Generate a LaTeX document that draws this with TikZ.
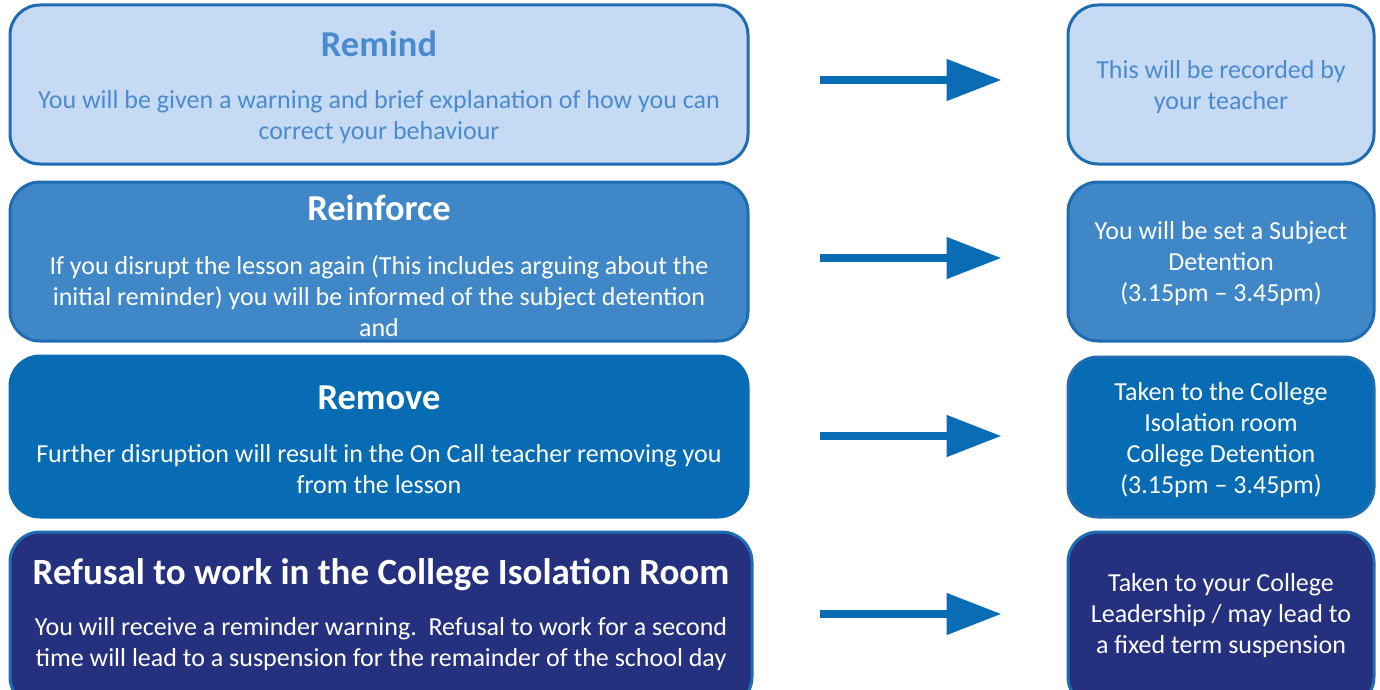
\documentclass[tikz,border=0pt]{standalone}
\usepackage{fontspec}
\setmainfont{Carlito}
\usetikzlibrary{arrows.meta}
\definecolor{cA}{HTML}{C6DBF3}
\definecolor{cAtext}{HTML}{4A8BCF}
\definecolor{cB}{HTML}{3F87C7}
\definecolor{cC}{HTML}{076CB3}
\definecolor{cD}{HTML}{25307F}
\definecolor{edge}{HTML}{1E6DB2}
\definecolor{arrowc}{HTML}{0A6CB4}
\tikzset{
  box/.style={draw=edge, line width=3pt, rounded corners=30pt, inner sep=0pt},
  lbox/.style={box, minimum width=738pt},
  rbox/.style={box, minimum width=306pt},
  ttl/.style={font=\fontsize{36.5}{40}\selectfont\bfseries, inner sep=0pt},
  bigttl/.style={font=\fontsize{37}{41}\selectfont\bfseries, inner sep=0pt},
  body/.style={font=\fontsize{26}{31}\selectfont, align=center, inner sep=0pt},
  flow/.style={draw=arrowc, line width=8pt, -{Triangle[length=55pt,width=40pt]}}
}
\begin{document}
\begin{tikzpicture}[x=1pt,y=-1pt]
\useasboundingbox (0,0) rectangle (1380,690);
\clip (0,0) rectangle (1380,690);
% left boxes
\node[lbox, fill=cA, minimum height=159pt] (b1) at (379,84.5) {};
\node[lbox, fill=cB, minimum height=159pt] (b2) at (379,261.5) {};
\node[lbox, fill=cC, draw=cC, minimum height=161pt] (b3) at (379,436.5) {};
\node[lbox, fill=cD, minimum width=742pt, minimum height=175pt] (b4) at (381,619.5) {};
% right boxes
\node[rbox, fill=cA, minimum height=159pt] (r1) at (1221,84.5) {};
\node[rbox, fill=cB, minimum height=159pt] (r2) at (1221,261.5) {};
\node[rbox, fill=cC, minimum height=160pt] (r3) at (1221,437) {};
\node[rbox, fill=cD, minimum height=175pt] (r4) at (1221,619.5) {};
% texts
\node[ttl, text=cAtext] (t1) at (379,44) {Remind};
\node[body, text=cAtext] (d1) at (379,117) {You will be given a warning and brief explanation of how you can\\correct your behaviour};
\node[ttl, text=white] (t2) at (379,208) {Reinforce};
\node[body, text=white] (d2) at (379,296) {If you disrupt the lesson again (This includes arguing about the\\initial reminder) you will be informed of the subject detention\\and};
\node[ttl, text=white] (t3) at (379,398) {Remove};
\node[body, text=white] (d3) at (379,469) {Further disruption will result in the On Call teacher removing you\\from the lesson};
\node[bigttl, text=white] (t4) at (381,575) {Refusal to work in the College Isolation Room};
\node[body, text=white] (d4) at (381,644.5) {You will receive a reminder warning.\ \ Refusal to work for a second\\time will lead to a suspension for the remainder of the school day};
\node[body, text=cAtext] (e1) at (1221,87.5) {This will be recorded by\\your teacher};
\node[body, text=white] (e2) at (1221,264) {You will be set a Subject\\Detention\\(3.15pm -- 3.45pm)};
\node[body, text=white] (e3) at (1221,440) {Taken to the College\\Isolation room\\College Detention\\(3.15pm -- 3.45pm)};
\node[body, text=white] (e4) at (1221,616) {Taken to your College\\Leadership / may lead to\\a fixed term suspension};
% arrows
\draw[flow] ([xshift=70pt]b1.east |- 0,80) -- ([xshift=-65pt]r1.west |- 0,80);
\draw[flow] ([xshift=70pt]b2.east |- 0,258) -- ([xshift=-65pt]r2.west |- 0,258);
\draw[flow] ([xshift=70pt]b3.east |- 0,436) -- ([xshift=-65pt]r3.west |- 0,436);
\draw[flow] ([xshift=66pt]b4.east |- 0,614) -- ([xshift=-65pt]r4.west |- 0,614);
\end{tikzpicture}
\end{document}
